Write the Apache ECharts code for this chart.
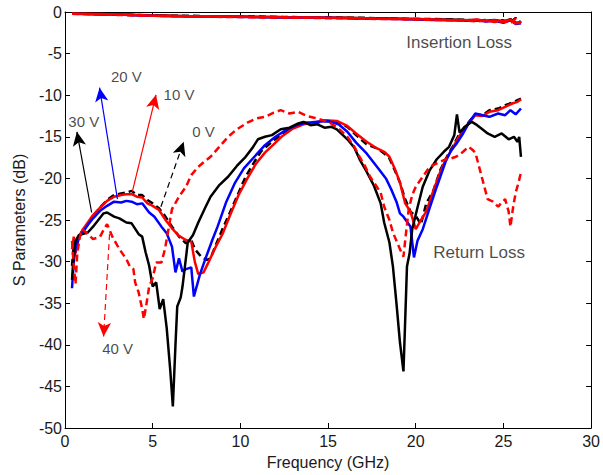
<!DOCTYPE html>
<html>
<head>
<meta charset="utf-8">
<script src="https://cdn.jsdelivr.net/npm/echarts@6/dist/echarts.min.js"></script>
<style>html,body{margin:0;padding:0;background:#fff}#c{width:603px;height:475px}</style>
</head>
<body>
<div id="c"></div>
<script>
// ---- data (frequency GHz, dB) ----
const xTicks = [0, 5, 10, 15, 20, 25, 30];
const yTicks = [-50, -45, -40, -35, -30, -25, -20, -15, -10, -5, 0];

// Insertion loss curves
const il0V  = [[0.4,-0.15],[1,-0.2],[2,-0.25],[3,-0.3],[4,-0.35],[5,-0.4],[6,-0.45],[7,-0.45],[8,-0.5],[9,-0.5],[10,-0.55],[11,-0.55],[12,-0.6],[13,-0.6],[14,-0.65],[15,-0.65],[16,-0.7],[17,-0.7],[18,-0.75],[19,-0.8],[20,-0.85],[21,-0.85],[22,-0.9],[23,-0.95],[23.5,-1.05],[24,-0.95],[24.5,-1.1],[25,-1.0],[25.4,-1.3],[25.7,-0.7],[26,-1.3]];
const il10V = [[0.4,-0.2],[1,-0.2],[2,-0.25],[3,-0.3],[4,-0.35],[5,-0.45],[6,-0.45],[7,-0.5],[8,-0.5],[9,-0.55],[10,-0.55],[11,-0.6],[12,-0.6],[13,-0.65],[14,-0.65],[15,-0.7],[16,-0.7],[17,-0.75],[18,-0.8],[19,-0.85],[20,-0.85],[21,-0.9],[22,-0.95],[23,-1.0],[23.5,-0.9],[24,-1.1],[24.5,-1.0],[25,-1.2],[25.4,-0.9],[25.7,-1.4],[26,-1.2]];
const il20V = [[0.4,-0.2],[1,-0.25],[2,-0.3],[3,-0.3],[4,-0.4],[5,-0.45],[6,-0.5],[7,-0.5],[8,-0.55],[9,-0.55],[10,-0.6],[11,-0.6],[12,-0.65],[13,-0.65],[14,-0.7],[15,-0.7],[16,-0.75],[17,-0.8],[18,-0.8],[19,-0.85],[20,-0.9],[21,-0.95],[22,-1.0],[23,-1.05],[23.5,-1.0],[24,-1.15],[24.5,-1.05],[25,-1.3],[25.4,-1.0],[25.7,-1.45],[26,-1.35]];
const il30V = [[0.4,-0.15],[1,-0.2],[2,-0.25],[3,-0.3],[4,-0.35],[5,-0.4],[6,-0.45],[7,-0.5],[8,-0.5],[9,-0.55],[10,-0.55],[11,-0.6],[12,-0.6],[13,-0.65],[14,-0.65],[15,-0.7],[16,-0.7],[17,-0.75],[18,-0.75],[19,-0.8],[20,-0.85],[21,-0.9],[22,-0.9],[23,-1.0],[23.5,-0.95],[24,-1.05],[24.5,-0.95],[25,-1.15],[25.4,-0.85],[25.7,-1.3],[26,-1.25]];
const il40V = [[0.4,-0.2],[1,-0.25],[2,-0.3],[3,-0.35],[4,-0.4],[5,-0.45],[6,-0.5],[7,-0.5],[8,-0.55],[9,-0.6],[10,-0.6],[11,-0.65],[12,-0.65],[13,-0.7],[14,-0.7],[15,-0.75],[16,-0.75],[17,-0.8],[18,-0.85],[19,-0.85],[20,-0.9],[21,-0.95],[22,-1.0],[23,-1.05],[23.5,-1.15],[24,-1.0],[24.5,-1.2],[25,-1.05],[25.4,-1.35],[25.7,-0.8],[26,-1.4]];

// Return loss curves
const rl0V = [[0.4,-30.5],[0.5,-28],[0.6,-28.6],[0.8,-26.8],[1.0,-26.3],[1.3,-25.5],[1.6,-24.5],[2.0,-23.5],[2.4,-22.6],[2.8,-22.0],[3.2,-21.8],[3.5,-21.7],[3.8,-21.5],[4.1,-22.0],[4.4,-22.0],[4.7,-22.6],[5.0,-23.0],[5.36,-23.6],[5.7,-24.5],[6.1,-25.8],[6.5,-27.0],[6.9,-27.8],[7.2,-27.4],[7.4,-28.5],[7.8,-29.5],[8.1,-29.8],[8.3,-29.6],[8.6,-28.0],[9.0,-26.0],[9.3,-24.6],[9.8,-22.2],[10.3,-19.8],[10.8,-18.0],[11.2,-16.7],[11.8,-15.6],[12.4,-14.6],[13.0,-13.9],[13.6,-13.3],[14.2,-13.4],[14.8,-13.1],[15.5,-13.2],[16.1,-13.8],[16.6,-14.8],[17.2,-15.9],[17.8,-16.4],[18.2,-17.0],[18.5,-17.6],[18.8,-19.0],[19.1,-20.5],[19.4,-22.5],[19.7,-24.0],[20.0,-24.5],[20.3,-25.5],[20.6,-23.0],[21.0,-21.5],[21.4,-19.0],[21.7,-17.7],[22.1,-16.2],[22.4,-15.0],[22.8,-13.8],[23.4,-12.3],[23.8,-12.4],[24.2,-11.8],[24.7,-11.6],[25.1,-11.2],[25.5,-10.9],[25.8,-10.6],[26.0,-10.4]];
const rl10V = [[0.4,-28.5],[0.5,-27],[0.6,-29],[0.8,-27],[1.0,-26.2],[1.3,-25.3],[1.6,-24.4],[2.0,-23.5],[2.4,-22.7],[2.8,-22.2],[3.2,-22.0],[3.5,-21.9],[3.8,-21.9],[4.1,-22.2],[4.4,-22.3],[4.7,-23.0],[5.0,-23.3],[5.36,-23.8],[5.7,-24.9],[6.1,-26.0],[6.5,-26.9],[6.9,-27.4],[7.2,-27.6],[7.4,-30.0],[7.6,-31.5],[7.9,-31.3],[8.2,-30.0],[8.6,-28.2],[9.0,-26.6],[9.4,-24.5],[9.9,-22.0],[10.4,-20.0],[10.9,-18.2],[11.4,-16.9],[11.9,-15.9],[12.4,-14.9],[13.0,-14.0],[13.6,-13.5],[14.2,-13.3],[14.8,-13.0],[15.5,-13.1],[16.1,-13.7],[16.6,-14.6],[17.2,-15.6],[17.8,-16.4],[18.2,-16.8],[18.5,-17.4],[18.8,-18.8],[19.1,-20.5],[19.4,-23.0],[19.7,-24.0],[20.0,-26.1],[20.3,-25.0],[20.6,-24.0],[21.0,-21.5],[21.4,-19.2],[21.7,-17.8],[22.1,-16.4],[22.4,-15.2],[22.8,-13.9],[23.4,-12.4],[23.8,-12.5],[24.2,-12.0],[24.7,-11.8],[25.1,-11.4],[25.5,-11.0],[25.8,-10.8],[26.0,-10.5]];
const rl20V = [[0.4,-33.2],[0.5,-30],[0.6,-28.5],[0.8,-27.0],[1.0,-26.5],[1.3,-25.6],[1.6,-24.8],[2.0,-23.9],[2.4,-23.3],[2.8,-22.8],[3.2,-22.9],[3.5,-22.7],[3.8,-22.8],[4.1,-23.1],[4.4,-23.0],[4.8,-24.1],[5.1,-24.6],[5.5,-25.8],[5.8,-26.6],[6.1,-28.2],[6.3,-31.3],[6.5,-29.6],[6.7,-31.2],[6.9,-30.9],[7.2,-30.7],[7.35,-34.2],[7.7,-31.5],[8.0,-29.7],[8.4,-27.4],[8.7,-25.8],[9.2,-22.8],[9.7,-20.5],[10.2,-18.8],[10.8,-17.4],[11.4,-16.0],[12.0,-15.0],[12.6,-14.2],[13.2,-13.6],[13.8,-13.3],[14.4,-13.2],[15.0,-13.1],[15.6,-13.5],[16.1,-14.4],[16.6,-15.7],[17.2,-17.0],[17.9,-18.9],[18.3,-20.0],[18.6,-21.3],[18.9,-22.8],[19.1,-24.2],[19.3,-24.6],[19.5,-25.2],[19.7,-25.8],[19.9,-29.5],[20.1,-27.5],[20.4,-26.1],[20.8,-23.5],[21.2,-21.0],[21.7,-18.0],[22.0,-16.7],[22.3,-15.9],[22.7,-14.6],[23.1,-13.1],[23.4,-12.2],[23.8,-12.4],[24.2,-12.6],[24.7,-12.2],[25.1,-12.4],[25.4,-11.8],[25.7,-12.3],[26.0,-11.6]];
const rl30V = [[0.4,-32.2],[0.5,-29.0],[0.6,-27.5],[0.8,-26.8],[1.0,-26.7],[1.3,-26.5],[1.6,-25.8],[1.9,-25.0],[2.2,-24.2],[2.4,-24.1],[2.8,-24.6],[3.1,-24.8],[3.5,-25.3],[3.8,-25.4],[4.2,-26.7],[4.4,-27.0],[4.6,-28.9],[4.8,-30.5],[5.0,-33.0],[5.2,-32.5],[5.4,-35.7],[5.6,-34.5],[5.8,-38.0],[6.0,-43.0],[6.15,-47.4],[6.3,-40.0],[6.4,-35.4],[6.6,-34.3],[6.7,-33.0],[6.9,-29.5],[7.0,-27.7],[7.3,-26.8],[7.6,-25.3],[8.0,-23.5],[8.3,-22.2],[8.8,-20.8],[9.3,-19.8],[9.8,-18.5],[10.3,-17.4],[10.7,-16.3],[11.0,-15.3],[11.4,-15.0],[11.8,-14.8],[12.3,-14.1],[12.8,-13.9],[13.3,-13.4],[13.6,-13.2],[14.0,-13.6],[14.4,-13.5],[14.8,-13.9],[15.2,-13.8],[15.5,-14.1],[16.1,-15.3],[16.5,-16.3],[16.8,-17.7],[17.2,-19.2],[17.6,-20.8],[18.0,-23.0],[18.2,-25.3],[18.5,-27.7],[18.7,-30.6],[18.9,-35.0],[19.1,-39.7],[19.3,-43.2],[19.4,-37.0],[19.5,-30.6],[19.65,-29.0],[19.8,-26.1],[20.1,-23.5],[20.4,-21.0],[20.8,-19.0],[21.2,-17.7],[21.6,-16.8],[21.9,-16.2],[22.2,-14.8],[22.35,-12.3],[22.5,-14.5],[22.8,-13.8],[23.2,-13.2],[23.5,-13.6],[23.8,-14.1],[24.1,-14.6],[24.5,-15.0],[24.9,-14.6],[25.3,-15.3],[25.6,-15.0],[25.8,-15.6],[25.9,-15.0],[26.0,-17.4]];
const rl40V = [[0.4,-27.5],[0.5,-30.5],[0.6,-32.7],[0.7,-29.0],[0.85,-27.0],[1.0,-26.1],[1.2,-26.5],[1.6,-27.3],[2.0,-27.0],[2.2,-26.2],[2.4,-25.5],[2.7,-27.0],[3.1,-28.5],[3.5,-29.7],[3.7,-30.6],[3.9,-30.9],[4.0,-32.5],[4.2,-33.7],[4.4,-35.7],[4.5,-36.9],[4.65,-35.0],[4.8,-33.0],[5.0,-32.0],[5.2,-30.1],[5.5,-30.1],[5.7,-28.5],[6.1,-23.7],[6.5,-22.2],[6.9,-21.0],[7.2,-19.6],[7.6,-18.6],[8.0,-17.9],[8.3,-17.4],[8.8,-16.2],[9.3,-15.0],[9.8,-14.1],[10.4,-13.3],[10.9,-12.8],[11.4,-12.6],[11.9,-12.1],[12.3,-11.8],[12.8,-12.2],[13.3,-12.0],[13.8,-12.5],[14.2,-12.7],[14.7,-13.0],[15.1,-13.3],[15.6,-14.0],[16.1,-15.0],[16.5,-16.2],[16.8,-17.4],[17.1,-18.5],[17.4,-19.8],[18.0,-21.7],[18.2,-23.4],[18.5,-25.0],[18.7,-26.5],[18.9,-27.5],[19.1,-28.5],[19.3,-29.4],[19.45,-26.5],[19.6,-23.7],[19.8,-22.0],[20.0,-21.0],[20.4,-19.8],[20.8,-18.6],[21.2,-18.2],[21.7,-17.7],[22.0,-17.6],[22.3,-17.4],[22.7,-16.8],[23.0,-16.2],[23.2,-16.5],[23.4,-16.9],[23.6,-18.5],[23.8,-20.1],[24.1,-22.5],[24.4,-22.8],[24.7,-23.4],[24.9,-22.9],[25.1,-22.5],[25.3,-24.0],[25.4,-25.8],[25.55,-23.5],[25.7,-21.7],[25.85,-20.6],[26.0,-19.3]];

// Annotations: label text, label position, arrow start, arrow tip
const voltLabels = ['30 V', '20 V', '10 V', '0 V', '40 V'];
const voltLabelPos = [[1.07,-13.2],[3.5,-7.8],[6.5,-9.95],[7.9,-14.4],[3.0,-40.5]];
const arrowStart = [[1.52,-24.1],[2.99,-22.5],[3.84,-21.6],[5.47,-23.4],[2.54,-26.7]];
const arrowTip = [[0.68,-14.4],[1.97,-9.1],[5.19,-9.95],[6.77,-15.6],[2.2,-39.0]];
const arrowColors = ['#000000','#0000ff','#ff0000','#000000','#ff0000'];
const arrowTypes = ['solid','solid','solid','dashed','dashed'];
const regionLabels = ['Insertion Loss', 'Return Loss'];
const regionLabelPos = [[19.46,-3.7],[21.0,-28.9]];

const FONT = 'Liberation Sans, Arial, sans-serif';
const chart = echarts.init(document.getElementById('c'), null, {renderer: 'svg'});

function curve(name, data, color, dashed) {
  return {
    name, type: 'line', data, xAxisIndex: 0, yAxisIndex: 0,
    showSymbol: false, symbol: 'none', silent: true,
    lineStyle: {color, width: 2.5, type: dashed ? [7, 4] : 'solid'},
    z: 3
  };
}

const series = [
  curve('IL 0 V', il0V, '#000000', true),
  curve('IL 30 V', il30V, '#000000', false),
  curve('IL 20 V', il20V, '#0000ff', false),
  curve('IL 10 V', il10V, '#ff0000', false),
  curve('IL 40 V', il40V, '#ff0000', true),
  curve('RL 0 V', rl0V, '#000000', true),
  curve('RL 10 V', rl10V, '#ff0000', false),
  curve('RL 20 V', rl20V, '#0000ff', false),
  curve('RL 30 V', rl30V, '#000000', false),
  curve('RL 40 V', rl40V, '#ff0000', true),
  {
    name: 'volt labels', type: 'scatter', symbolSize: 0, silent: true, z: 5,
    data: voltLabels.map((t, i) => ({name: t, value: voltLabelPos[i]})),
    label: {show: true, position: 'inside', formatter: p => p.name, color: '#1a1a1a', fontSize: 15, fontFamily: FONT},
    markLine: {
      silent: true, animation: false,
      symbol: ['none', 'arrow'], symbolSize: [10, 14],
      label: {show: false},
      emphasis: {disabled: true},
      data: arrowStart.map((s, i) => [
        {coord: s, lineStyle: {color: arrowColors[i], width: 1.2, type: arrowTypes[i] === 'dashed' ? [6, 4] : 'solid'}, itemStyle: {color: arrowColors[i]}},
        {coord: arrowTip[i]}
      ])
    }
  },
  {
    name: 'region labels', type: 'scatter', symbolSize: 0, silent: true, z: 5,
    data: regionLabels.map((t, i) => ({name: t, value: regionLabelPos[i]})),
    label: {show: true, position: 'right', distance: 0, formatter: p => p.name, color: '#1a1a1a', fontSize: 17, fontFamily: FONT}
  }
];

const tickLabelStyle = {color: '#1a1a1a', fontSize: 16, fontFamily: FONT};
chart.setOption({
  animation: false,
  backgroundColor: '#ffffff',
  grid: {left: 65, top: 12, right: 6, bottom: 46, containLabel: false},
  xAxis: [
    {type: 'value', position: 'bottom', min: xTicks[0], max: xTicks[xTicks.length-1], interval: 5,
     name: 'Frequency (GHz)', nameLocation: 'middle', nameGap: 26,
     nameTextStyle: {color: '#1a1a1a', fontSize: 16, fontFamily: FONT},
     axisLine: {show: true, onZero: false, lineStyle: {color: '#000', width: 1}},
     axisTick: {show: true, inside: true, length: 5, lineStyle: {color: '#000'}},
     axisLabel: Object.assign({margin: 5}, tickLabelStyle),
     splitLine: {show: false}},
    {type: 'value', position: 'top', min: xTicks[0], max: xTicks[xTicks.length-1], interval: 5,
     axisLine: {show: true, onZero: false, lineStyle: {color: '#000', width: 1}},
     axisTick: {show: true, inside: true, length: 5, lineStyle: {color: '#000'}},
     axisLabel: {show: false}, splitLine: {show: false}}
  ],
  yAxis: [
    {type: 'value', position: 'left', min: yTicks[0], max: yTicks[yTicks.length-1], interval: 5,
     name: 'S Parameters (dB)', nameLocation: 'middle', nameGap: 38,
     nameTextStyle: {color: '#1a1a1a', fontSize: 16, fontFamily: FONT},
     axisLine: {show: true, onZero: false, lineStyle: {color: '#000', width: 1}},
     axisTick: {show: true, inside: true, length: 5, lineStyle: {color: '#000'}},
     axisLabel: Object.assign({margin: 3}, tickLabelStyle),
     splitLine: {show: false}},
    {type: 'value', position: 'right', min: yTicks[0], max: yTicks[yTicks.length-1], interval: 5,
     axisLine: {show: true, onZero: false, lineStyle: {color: '#000', width: 1}},
     axisTick: {show: true, inside: true, length: 5, lineStyle: {color: '#000'}},
     axisLabel: {show: false}, splitLine: {show: false}}
  ],
  series
});
</script>
</body>
</html>
